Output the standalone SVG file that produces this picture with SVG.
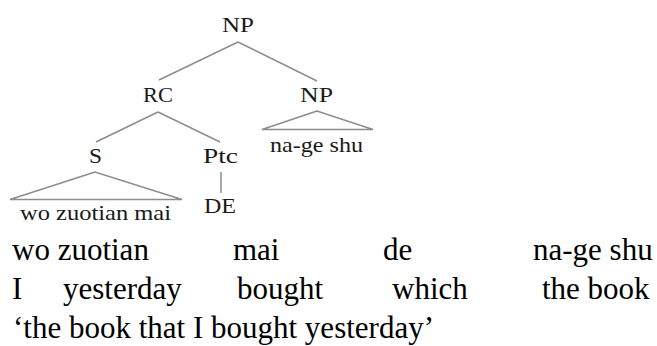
<svg xmlns="http://www.w3.org/2000/svg" width="657" height="346" viewBox="0 0 657 346">
<style>
.edge{stroke:#8c8c8c;stroke-width:1.5;fill:none}
.lbl{font-family:'Liberation Serif',serif;font-size:22px;fill:#1a1a1a;text-anchor:middle}
.gl{font-family:'Liberation Serif',serif;font-size:31px;fill:#000}
</style>
<rect width="657" height="346" fill="#fff"/>
<g id="connectors">
<line class="edge" x1="238" y1="42" x2="159" y2="80"/>
<line class="edge" x1="238" y1="42" x2="317" y2="81"/>
<line class="edge" x1="158" y1="112" x2="96" y2="142"/>
<line class="edge" x1="158" y1="112" x2="220" y2="142"/>
<line class="edge" x1="221" y1="172" x2="221" y2="193"/>
<polygon class="edge" points="95,172 10,199.5 182,199.5"/>
<polygon class="edge" points="317,111 262,129.5 373,129.5"/>
</g>
<g id="np-root"><text class="lbl" x="238" y="32" textLength="32" lengthAdjust="spacingAndGlyphs">NP</text></g>
<g id="rc"><text class="lbl" x="158" y="102" textLength="30" lengthAdjust="spacingAndGlyphs">RC</text></g>
<g id="np-head"><text class="lbl" x="316.5" y="102" textLength="33" lengthAdjust="spacingAndGlyphs">NP</text></g>
<g id="np-head-leaf"><text class="lbl" x="316.5" y="152" textLength="93" lengthAdjust="spacingAndGlyphs">na-ge shu</text></g>
<g id="s"><text class="lbl" x="95.5" y="163" textLength="13" lengthAdjust="spacingAndGlyphs">S</text></g>
<g id="s-leaf"><text class="lbl" x="95.5" y="220" textLength="151" lengthAdjust="spacingAndGlyphs">wo zuotian mai</text></g>
<g id="ptc"><text class="lbl" x="220.5" y="163" textLength="35" lengthAdjust="spacingAndGlyphs">Ptc</text></g>
<g id="de"><text class="lbl" x="220" y="213" textLength="32" lengthAdjust="spacingAndGlyphs">DE</text></g>
<g id="gloss">
<text class="gl" x="12" y="260">wo zuotian</text>
<text class="gl" x="233" y="260">mai</text>
<text class="gl" x="383" y="260">de</text>
<text class="gl" x="533" y="260">na-ge shu</text>
<text class="gl" x="12" y="299">I</text>
<text class="gl" x="63" y="299">yesterday</text>
<text class="gl" x="237" y="299">bought</text>
<text class="gl" x="392" y="299">which</text>
<text class="gl" x="542" y="299">the book</text>
<text class="gl" x="13" y="338">&#8216;the book that I bought yesterday&#8217;</text>
</g>
</svg>
